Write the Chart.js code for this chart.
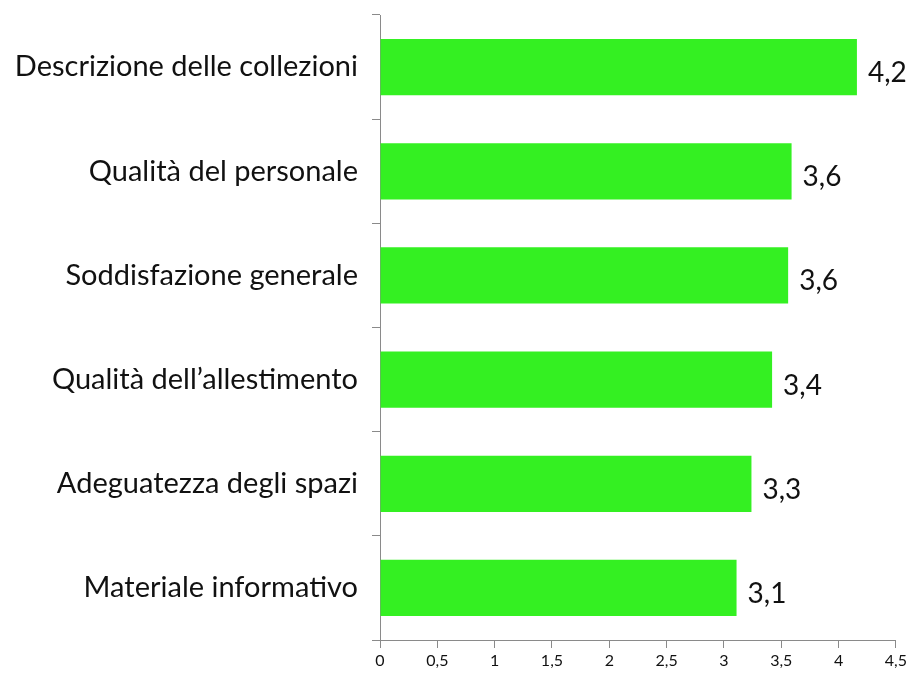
<!DOCTYPE html>
<html>
<head>
<meta charset="utf-8">
<script src="https://cdn.jsdelivr.net/npm/chart.js@4/dist/chart.umd.min.js"></script>
<style>
html,body{margin:0;padding:0;background:#fff;}
#wrap{width:910px;height:683px;}
</style>
</head>
<body>
<div id="wrap"><canvas id="c" width="910" height="683"></canvas></div>
<script>
const categories = [
  "Descrizione delle collezioni",
  "Qualità del personale",
  "Soddisfazione generale",
  "Qualità dell\u2019allestimento",
  "Adeguatezza degli spazi",
  "Materiale informativo"
];
const values = [4.16, 3.59, 3.56, 3.42, 3.24, 3.11];
const valueLabels = ["4,2", "3,6", "3,6", "3,4", "3,3", "3,1"];
const xTicks = [0, 0.5, 1, 1.5, 2, 2.5, 3, 3.5, 4, 4.5];

const FONT = "Lato, 'Open Sans', sans-serif";
const TEXT = "#111111";
const AXIS = "#8a8a8a";

const valueLabelPlugin = {
  id: 'valueLabels',
  afterDatasetsDraw(chart) {
    const ctx = chart.ctx;
    const meta = chart.getDatasetMeta(0);
    ctx.save();
    ctx.font = "28px " + FONT;
    ctx.fillStyle = TEXT;
    ctx.textAlign = "left";
    ctx.textBaseline = "middle";
    meta.data.forEach((bar, i) => {
      ctx.fillText(valueLabels[i], bar.x + 11, bar.y + 6);
    });
    ctx.restore();
  }
};

new Chart(document.getElementById('c'), {
  type: 'bar',
  data: {
    labels: categories,
    datasets: [{
      data: values,
      backgroundColor: '#34F022',
      borderWidth: 0,
      categoryPercentage: 1.0,
      barPercentage: 0.54
    }]
  },
  options: {
    indexAxis: 'y',
    responsive: false,
    animation: false,
    devicePixelRatio: 1,
    layout: { padding: { top: 15, right: 10, left: 0, bottom: 0 } },
    plugins: { legend: { display: false }, tooltip: { enabled: false } },
    scales: {
      x: {
        min: 0, max: 4.5,
        afterBuildTicks(scale) { scale.ticks = xTicks.map(v => ({ value: v })); },
        afterFit(scale) { scale.height = 43; },
        grid: { display: true, drawOnChartArea: false, drawTicks: true, tickLength: 8, color: AXIS, lineWidth: 1 },
        border: { display: true, color: AXIS, width: 1 },
        ticks: {
          color: TEXT,
          font: { family: FONT, size: 16 },
          padding: 3,
          maxRotation: 0,
          callback: (v) => String(v).replace('.', ',')
        }
      },
      y: {
        afterFit(scale) { scale.width = 380; scale.paddingTop = 0; scale.paddingBottom = 0; },
        grid: { display: true, drawOnChartArea: false, drawTicks: true, tickLength: 8, color: AXIS, offset: true },
        border: { display: true, color: AXIS, width: 1 },
        ticks: {
          color: TEXT,
          font: { family: FONT, size: 29 },
          padding: 14
        }
      }
    }
  },
  plugins: [valueLabelPlugin]
});
</script>
</body>
</html>
